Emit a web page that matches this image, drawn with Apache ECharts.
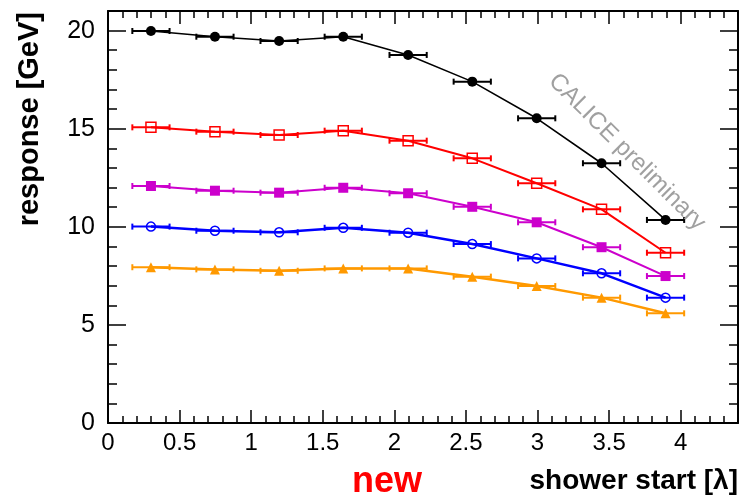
<!DOCTYPE html>
<html><head><meta charset="utf-8">
<script src="https://cdn.jsdelivr.net/npm/echarts@6/dist/echarts.min.js"></script>
<style>html,body{margin:0;padding:0;background:#fff}#c{width:743px;height:498px}</style>
</head><body><div id="c"></div>
<script>
// ---- data ----
const showerStart = [0.3, 0.747, 1.195, 1.643, 2.096, 2.544, 2.994, 3.447, 3.894];
const xErr = 0.13;
const blackResp   = [19.98, 19.69, 19.47, 19.69, 18.76, 17.40, 15.53, 13.24, 10.35];
const redResp     = [15.07, 14.85, 14.68, 14.90, 14.39, 13.49, 12.22, 10.89, 8.68];
const magentaResp = [12.08, 11.84, 11.74, 11.99, 11.71, 11.02, 10.23, 8.96, 7.49];
const blueResp    = [10.01, 9.80, 9.72, 9.95, 9.70, 9.12, 8.39, 7.63, 6.39];
const orangeResp  = [7.94, 7.83, 7.76, 7.88, 7.88, 7.46, 6.98, 6.39, 5.59];
const xRange = [0, 4.4];
const yRange = [0, 21];
const xMajor = 0.5, xMinor = 0.1;
const yMajor = 5, yMinor = 1;
const xTitle = 'shower start [λ]';
const yTitle = 'response [GeV]';
const noteText = 'CALICE preliminary';
const newText = 'new';

const FONT = "'Liberation Sans', Arial, Helvetica, sans-serif";
const chart = echarts.init(document.getElementById('c'), null, {renderer: 'canvas'});

function mkAxis(dim, position, interval, len, showLabel, showLine) {
  const isX = dim === 'x';
  const r = isX ? xRange : yRange;
  return {
    type: 'value', position: position, min: r[0], max: r[1], interval: interval,
    axisLine: {show: showLine, onZero: false, lineStyle: {color: '#000', width: 2}},
    axisTick: {show: true, inside: true, length: len, lineStyle: {color: '#000', width: 1.5}},
    splitLine: {show: false},
    axisLabel: {show: showLabel, color: '#000', fontFamily: FONT, fontSize: isX ? 24 : 25,
      margin: isX ? 8 : 13, showMaxLabel: false, showMinLabel: true},
    z: 5
  };
}

const xAxes = [
  mkAxis('x', 'bottom', xMinor, 7, false, true),
  mkAxis('x', 'bottom', xMajor, 13, true, false),
  mkAxis('x', 'top', xMinor, 7, false, true),
  mkAxis('x', 'top', xMajor, 13, false, false)
];
const yAxes = [
  mkAxis('y', 'left', yMinor, 9, false, true),
  mkAxis('y', 'left', yMajor, 18, true, false),
  mkAxis('y', 'right', yMinor, 9, false, true),
  mkAxis('y', 'right', yMajor, 18, false, false)
];

const groups = [
  {vals: blackResp,   color: '#000000', symbol: 'circle', size: 10, filled: true,  lw: 1.6},
  {vals: redResp,     color: '#ff0000', symbol: 'rect',   size: 10, filled: false, lw: 2},
  {vals: magentaResp, color: '#cc00cc', symbol: 'rect',   size: 10, filled: true,  lw: 2},
  {vals: blueResp,    color: '#0000ff', symbol: 'circle', size: 9,  filled: false, lw: 2.5},
  {vals: orangeResp,  color: '#ff9900', symbol: 'triangle', size: 10, filled: true, lw: 2.5}
];

const series = [];
groups.forEach(function (g) {
  const data = showerStart.map(function (x, i) { return [x, g.vals[i]]; });
  series.push({
    type: 'custom', xAxisIndex: 0, yAxisIndex: 0, data: data, z: 2, silent: true,
    encode: {x: 0, y: 1},
    renderItem: function (params, api) {
      const x = api.value(0), y = api.value(1);
      const p1 = api.coord([x - xErr, y]);
      const p2 = api.coord([x + xErr, y]);
      const cap = 3;
      const st = {stroke: g.color, lineWidth: 2};
      return {type: 'group', children: [
        {type: 'line', shape: {x1: p1[0], y1: p1[1], x2: p2[0], y2: p2[1]}, style: st},
        {type: 'line', shape: {x1: p1[0], y1: p1[1] - cap, x2: p1[0], y2: p1[1] + cap}, style: st},
        {type: 'line', shape: {x1: p2[0], y1: p2[1] - cap, x2: p2[0], y2: p2[1] + cap}, style: st}
      ]};
    }
  });
  series.push({
    type: 'line', xAxisIndex: 0, yAxisIndex: 0, data: data, z: 3, silent: true,
    symbol: g.symbol, symbolSize: g.size, showAllSymbol: true,
    lineStyle: {color: g.color, width: g.lw},
    itemStyle: g.filled ? {color: g.color, borderWidth: 0}
                        : {color: 'rgba(255,255,255,0)', borderColor: g.color, borderWidth: 1.5},
    animation: false
  });
});

chart.setOption({
  animation: false,
  backgroundColor: '#fff',
  grid: {left: 108, right: 5, top: 11, bottom: 75, containLabel: false},
  xAxis: xAxes,
  yAxis: yAxes,
  series: series,
  graphic: [
    {type: 'text', x: 738, y: 481, z: 10,
      style: {text: xTitle, fill: '#000', font: "bold 28px " + FONT, textAlign: 'right', textVerticalAlign: 'middle'}},
    {type: 'text', x: 30, y: 12, rotation: Math.PI / 2, z: 10,
      style: {text: yTitle, fill: '#000', font: "bold 29px " + FONT, textAlign: 'right', textVerticalAlign: 'middle'}},
    {type: 'text', x: 387, y: 482, z: 10,
      style: {text: newText, fill: '#ff0000', font: "bold 36px " + FONT, textAlign: 'center', textVerticalAlign: 'middle'}},
    {type: 'text', x: 627, y: 152, rotation: -45 * Math.PI / 180, z: 10,
      style: {text: noteText, fill: '#a0a0a0', font: "24px " + FONT, textAlign: 'center', textVerticalAlign: 'middle'}}
  ]
});
</script></body></html>
